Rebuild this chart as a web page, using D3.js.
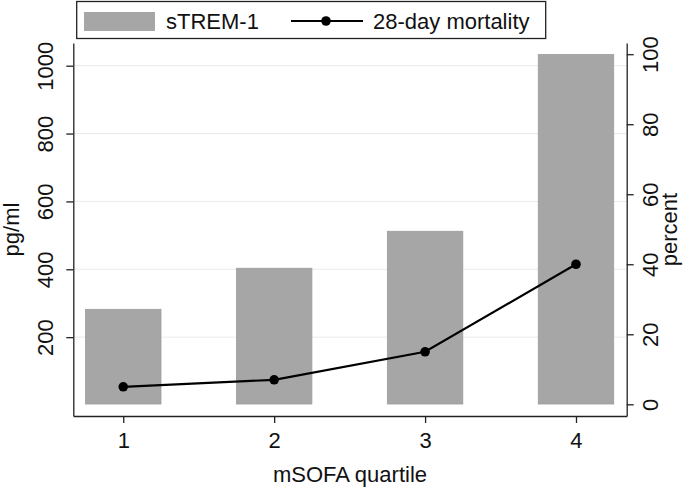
<!DOCTYPE html>
<html>
<head>
<meta charset="utf-8">
<script src="https://cdn.jsdelivr.net/npm/d3@7"></script>
<style>
  body { margin: 0; background: #fff; }
  svg { display: block; font-family: "Liberation Sans", Arial, sans-serif; }
</style>
</head>
<body>
<svg id="chart" width="685" height="490"></svg>
<script>
// mSOFA quartiles, sTREM-1 (pg/ml) and 28-day mortality (percent)
const quartiles = [1, 2, 3, 4];
const strem1 = [282, 403, 512, 1033];
const mortality = [5, 7, 15, 40];
const leftTicks = [200, 400, 600, 800, 1000];
const rightTicks = [0, 20, 40, 60, 80, 100];

const svg = d3.select('#chart');
const plotLeft = 73.3, plotRight = 626.7, plotTop = 43, plotBottom = 416;
const fs = 22;

const x = d3.scaleLinear().domain([0.669, 4.336]).range([plotLeft, plotRight]);
const yL = d3.scaleLinear().domain([-32.4, 1066.9]).range([plotBottom, plotTop]);
const yR = d3.scaleLinear().domain([-3.34, 103.2]).range([plotBottom, plotTop]);
const barW = x(1.5) - x(1);

// gridlines
svg.append('g').selectAll('line').data(leftTicks).join('line')
  .attr('x1', plotLeft).attr('x2', plotRight)
  .attr('y1', d => yL(d)).attr('y2', d => yL(d))
  .attr('stroke', '#ebebeb').attr('stroke-width', 1);

// bars
svg.append('g').selectAll('rect').data(quartiles).join('rect')
  .attr('x', d => x(d) - barW / 2)
  .attr('width', barW)
  .attr('y', (d, i) => yL(strem1[i]))
  .attr('height', (d, i) => yL(0) - yL(strem1[i]) - 1)
  .attr('fill', '#a6a6a6').attr('stroke', '#9c9c9c').attr('stroke-width', 0.8);

// mortality line
const pts = quartiles.map((q, i) => [x(q), yR(mortality[i])]);
svg.append('path').attr('d', d3.line()(pts))
  .attr('fill', 'none').attr('stroke', '#000').attr('stroke-width', 2.2);
svg.append('g').selectAll('circle').data(pts).join('circle')
  .attr('cx', d => d[0]).attr('cy', d => d[1]).attr('r', 4.8).attr('fill', '#000');

// axes
function styleAxis(g) {
  g.selectAll('path.domain').attr('stroke', '#222').attr('stroke-width', 1.3);
  g.selectAll('.tick line').attr('stroke', '#222').attr('stroke-width', 1.3);
  g.selectAll('text').attr('fill', '#111').style('font-size', fs + 'px')
    .style('font-family', '"Liberation Sans", Arial, sans-serif');
}

svg.append('g').attr('transform', `translate(0,${plotBottom})`)
  .call(d3.axisBottom(x).tickValues(quartiles).tickFormat(d3.format('d')).tickSize(7).tickSizeOuter(0).tickPadding(9))
  .call(styleAxis);

const ayL = svg.append('g').attr('transform', `translate(${plotLeft},0)`)
  .call(d3.axisLeft(yL).tickValues(leftTicks).tickFormat(d3.format('d')).tickSize(7).tickSizeOuter(0))
  .call(styleAxis);
ayL.selectAll('.tick text')
  .attr('x', 0).attr('dy', 0).attr('text-anchor', 'middle')
  .attr('transform', 'translate(-20,0) rotate(-90)');

const ayR = svg.append('g').attr('transform', `translate(${plotRight},0)`)
  .call(d3.axisRight(yR).tickValues(rightTicks).tickFormat(d3.format('d')).tickSize(7).tickSizeOuter(0))
  .call(styleAxis);
ayR.selectAll('.tick text')
  .attr('x', 0).attr('dy', 0).attr('text-anchor', 'middle')
  .attr('transform', 'translate(31,0) rotate(-90)');

// axis titles
const midY = (plotTop + plotBottom) / 2;
svg.append('text').attr('transform', `translate(19,${midY}) rotate(-90)`)
  .attr('text-anchor', 'middle').style('font-size', fs + 'px').attr('fill', '#111').text('pg/ml');
svg.append('text').attr('transform', `translate(677,${midY}) rotate(-90)`)
  .attr('text-anchor', 'middle').style('font-size', fs + 'px').attr('fill', '#111').text('percent');
svg.append('text').attr('x', (plotLeft + plotRight) / 2).attr('y', 482)
  .attr('text-anchor', 'middle').style('font-size', fs + 'px').attr('fill', '#111').text('mSOFA quartile');

// legend
const lg = svg.append('g');
lg.append('rect').attr('x', 76.7).attr('y', 1.5).attr('width', 469).attr('height', 37)
  .attr('fill', '#fff').attr('stroke', '#222').attr('stroke-width', 1.3);
lg.append('rect').attr('x', 84.5).attr('y', 12.5).attr('width', 70).attr('height', 18)
  .attr('fill', '#a6a6a6').attr('stroke', '#9c9c9c').attr('stroke-width', 0.8);
lg.append('text').attr('x', 166).attr('y', 29).style('font-size', fs + 'px').attr('fill', '#111').text('sTREM-1');
lg.append('line').attr('x1', 291).attr('x2', 363).attr('y1', 21).attr('y2', 21)
  .attr('stroke', '#000').attr('stroke-width', 2.2);
lg.append('circle').attr('cx', 326).attr('cy', 21).attr('r', 4.8).attr('fill', '#000');
lg.append('text').attr('x', 373).attr('y', 29).style('font-size', fs + 'px').attr('fill', '#111').text('28-day mortality');
</script>
</body>
</html>
